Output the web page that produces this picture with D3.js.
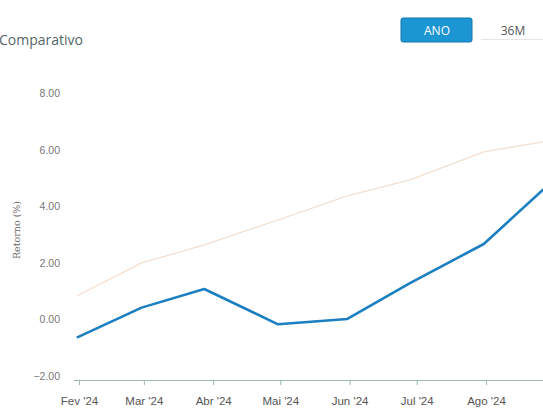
<!DOCTYPE html>
<html>
<head>
<meta charset="utf-8">
<script src="https://cdn.jsdelivr.net/npm/d3@7"></script>
<style>
  html, body { margin: 0; padding: 0; background: #fff; overflow: hidden; }
  svg { display: block; }
</style>
</head>
<body>
<svg width="543" height="410"></svg>
<script>
// month-end dates of the two series
const dates = ["2024-01-31", "2024-02-29", "2024-03-28", "2024-04-30",
               "2024-05-31", "2024-06-28", "2024-07-31", "2024-08-30"];
const fundo = [-0.50, 0.56, 1.22, -0.03, 0.16, 1.43, 2.81, 4.98];
const benchmark = [0.97, 2.14, 2.78, 3.66, 4.51, 5.08, 6.07, 6.47];
const monthLabels = ["Fev '24", "Mar '24", "Abr '24", "Mai '24", "Jun '24", "Jul '24", "Ago '24"];
const yTicks = [-2, 0, 2, 4, 6, 8];

const parse = d3.timeParse("%Y-%m-%d");
const svg = d3.select('svg');

const xScale = d3.scaleTime()
  .domain([new Date(2024, 1, 1), new Date(2024, 7, 1)])
  .range([79, 486]);
const yScale = d3.scaleLinear()
  .domain([-2, 8])
  .range([380, 97.3]);

// title and period buttons
svg.append('text')
  .attr('x', -1).attr('y', 45)
  .style('font-family', 'Open Sans, sans-serif')
  .style('font-size', '14px')
  .style('fill', '#55666b')
  .text('Comparativo');

svg.append('rect')
  .attr('x', 401).attr('y', 18).attr('width', 71).attr('height', 24)
  .attr('rx', 2)
  .style('fill', '#1c95d3')
  .style('stroke', '#1577ad');
svg.append('text')
  .attr('x', 437).attr('y', 34.5)
  .attr('text-anchor', 'middle')
  .style('font-family', 'Open Sans, sans-serif')
  .style('font-size', '12px')
  .style('fill', '#fff')
  .text('ANO');
svg.append('text')
  .attr('x', 513).attr('y', 34.5)
  .attr('text-anchor', 'middle')
  .style('font-family', 'Open Sans, sans-serif')
  .style('font-size', '12px')
  .style('fill', '#555')
  .text('36M');
svg.append('line')
  .attr('x1', 481).attr('x2', 543).attr('y1', 39.5).attr('y2', 39.5)
  .style('stroke', '#e6e6e6');

// y labels
svg.append('g')
  .selectAll('text')
  .data(yTicks)
  .enter()
  .append('text')
    .attr('x', 60)
    .attr('y', d => yScale(d) - 4)
    .attr('dy', '0.35em')
    .attr('text-anchor', 'end')
    .style('font-family', 'Liberation Sans, Arial, sans-serif')
    .style('font-size', '10.5px')
    .style('fill', '#777')
    .text(d => d3.format('.2f')(d));

svg.append('text')
  .attr('transform', 'translate(20, 230) rotate(-90)')
  .attr('text-anchor', 'middle')
  .style('font-family', 'DejaVu Serif, serif')
  .style('font-size', '9.5px')
  .style('fill', '#666')
  .text('Retorno (%)');

// x axis
const tickDates = monthLabels.map((d, i) => new Date(2024, 1 + i, 1));
const xAxis = d3.axisBottom(xScale)
  .tickValues(tickDates)
  .tickSize(5)
  .tickFormat((d, i) => monthLabels[i]);

const gx = svg.append('g')
  .attr('transform', 'translate(0, 380)')
  .call(xAxis);
gx.select('.domain').remove();
gx.selectAll('.tick line').style('stroke', '#9bb8b4');
gx.selectAll('.tick text')
  .attr('y', 17)
  .style('font-family', 'Liberation Sans, Arial, sans-serif')
  .style('font-size', '11.5px')
  .style('fill', '#555');

svg.append('line')
  .attr('x1', 74).attr('x2', 543)
  .attr('y1', 380.5).attr('y2', 380.5)
  .style('stroke', '#9bb8b4')
  .style('stroke-width', 1.2);

// series
const line = d3.line()
  .x(d => xScale(d.date))
  .y(d => yScale(d.value));

const toPoints = vals => vals.map((v, i) => ({ date: parse(dates[i]), value: v }));

svg.append('path')
  .datum(toPoints(benchmark))
  .attr('d', line)
  .style('fill', 'none')
  .style('stroke', '#f3dfcf')
  .style('stroke-width', 1.3);

svg.append('path')
  .datum(toPoints(fundo))
  .attr('d', line)
  .style('fill', 'none')
  .style('stroke', '#1b7fc2')
  .style('stroke-width', 2.6)
  .style('stroke-linejoin', 'round');
</script>
</body>
</html>
